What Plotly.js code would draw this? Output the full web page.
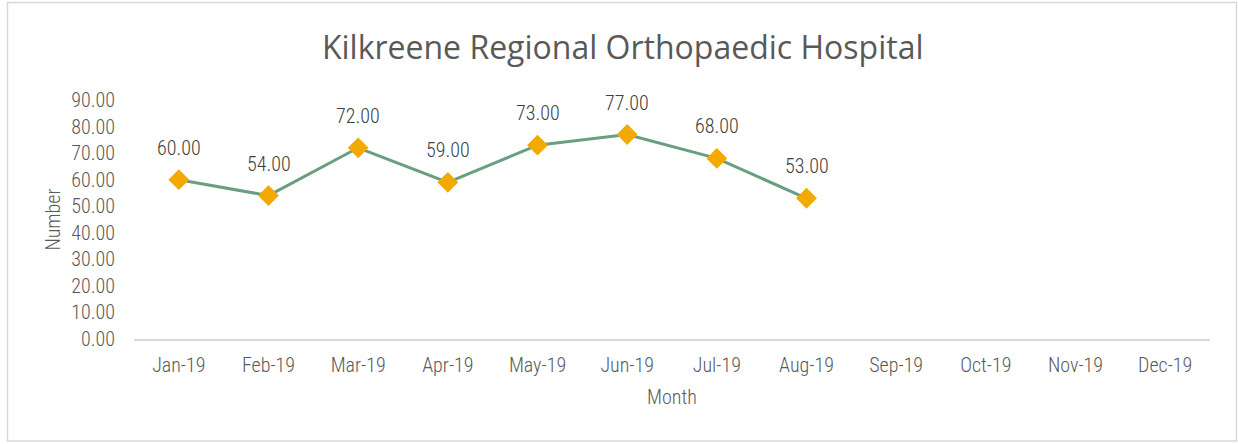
<!DOCTYPE html>
<html>
<head>
<meta charset="utf-8">
<script src="https://cdn.plot.ly/plotly-3.0.1.min.js"></script>
<style>html,body{margin:0;padding:0;background:#fff;}#chart{width:1238px;height:444px;}</style>
</head>
<body>
<div id="chart"></div>
<script>
const months = ["Jan-19","Feb-19","Mar-19","Apr-19","May-19","Jun-19","Jul-19","Aug-19","Sep-19","Oct-19","Nov-19","Dec-19"];
const values = [60, 54, 72, 59, 73, 77, 68, 53, null, null, null, null];
const yTicks = [0,10,20,30,40,50,60,70,80,90];

const narrow = "'Roboto Condensed', 'Arial Narrow', sans-serif";
const gray = "#595959";
const lbl = {family: narrow, size: 20, color: gray, weight: 300};

const trace = {
  x: months,
  y: values,
  type: "scatter",
  mode: "lines+markers",
  line: {color: "#6a9e80", width: 3},
  marker: {symbol: "diamond", size: 16, color: "#f2a900", line: {width: 0}},
  cliponaxis: false,
  hoverinfo: "skip",
  showlegend: false
};

const annotations = [];
values.forEach((v, i) => {
  if (v === null) return;
  annotations.push({
    x: months[i], y: v, xref: "x", yref: "y",
    text: v.toFixed(2), showarrow: false,
    yshift: 32, font: {family: narrow, size: 20, color: "#404040", weight: 300}
  });
});

const layout = {
  width: 1238, height: 444,
  margin: {l: 134, r: 28, t: 100, b: 105},
  paper_bgcolor: "#fff", plot_bgcolor: "#fff",
  title: {text: "Kilkreene Regional Orthopaedic Hospital", font: {family: "'Open Sans', 'Noto Sans', sans-serif", size: 32, color: gray}, x: 0.503, xanchor: "center", y: 0.893, yanchor: "middle"},
  xaxis: {
    type: "category", categoryorder: "array", categoryarray: months,
    range: [-0.5, 11.5],
    showgrid: false, zeroline: false,
    showline: true, linecolor: "#d9d9d9", linewidth: 1.5,
    ticks: "", ticklabelstandoff: 7, tickfont: lbl,
    title: {text: "Month", font: lbl, standoff: 14}
  },
  yaxis: {
    range: [0, 90], tickvals: yTicks, ticktext: yTicks.map(v => v.toFixed(2)),
    showgrid: false, zeroline: false, showline: false,
    ticks: "", ticklabelstandoff: 18,
    tickfont: lbl,
    title: {text: "Number", font: lbl, standoff: 5}
  },
  annotations: annotations,
  shapes: [{
    type: "rect", xref: "paper", yref: "paper",
    x0: (7.5 - 134) / 1076, x1: (1236.5 - 134) / 1076,
    y0: (339 - 441) / 239, y1: (339 - 2.5) / 239,
    line: {color: "#d9d9d9", width: 1.5}, fillcolor: "rgba(0,0,0,0)", layer: "below"
  }]
};

Plotly.newPlot("chart", [trace], layout, {displayModeBar: false, staticPlot: true});
</script>
</body>
</html>
